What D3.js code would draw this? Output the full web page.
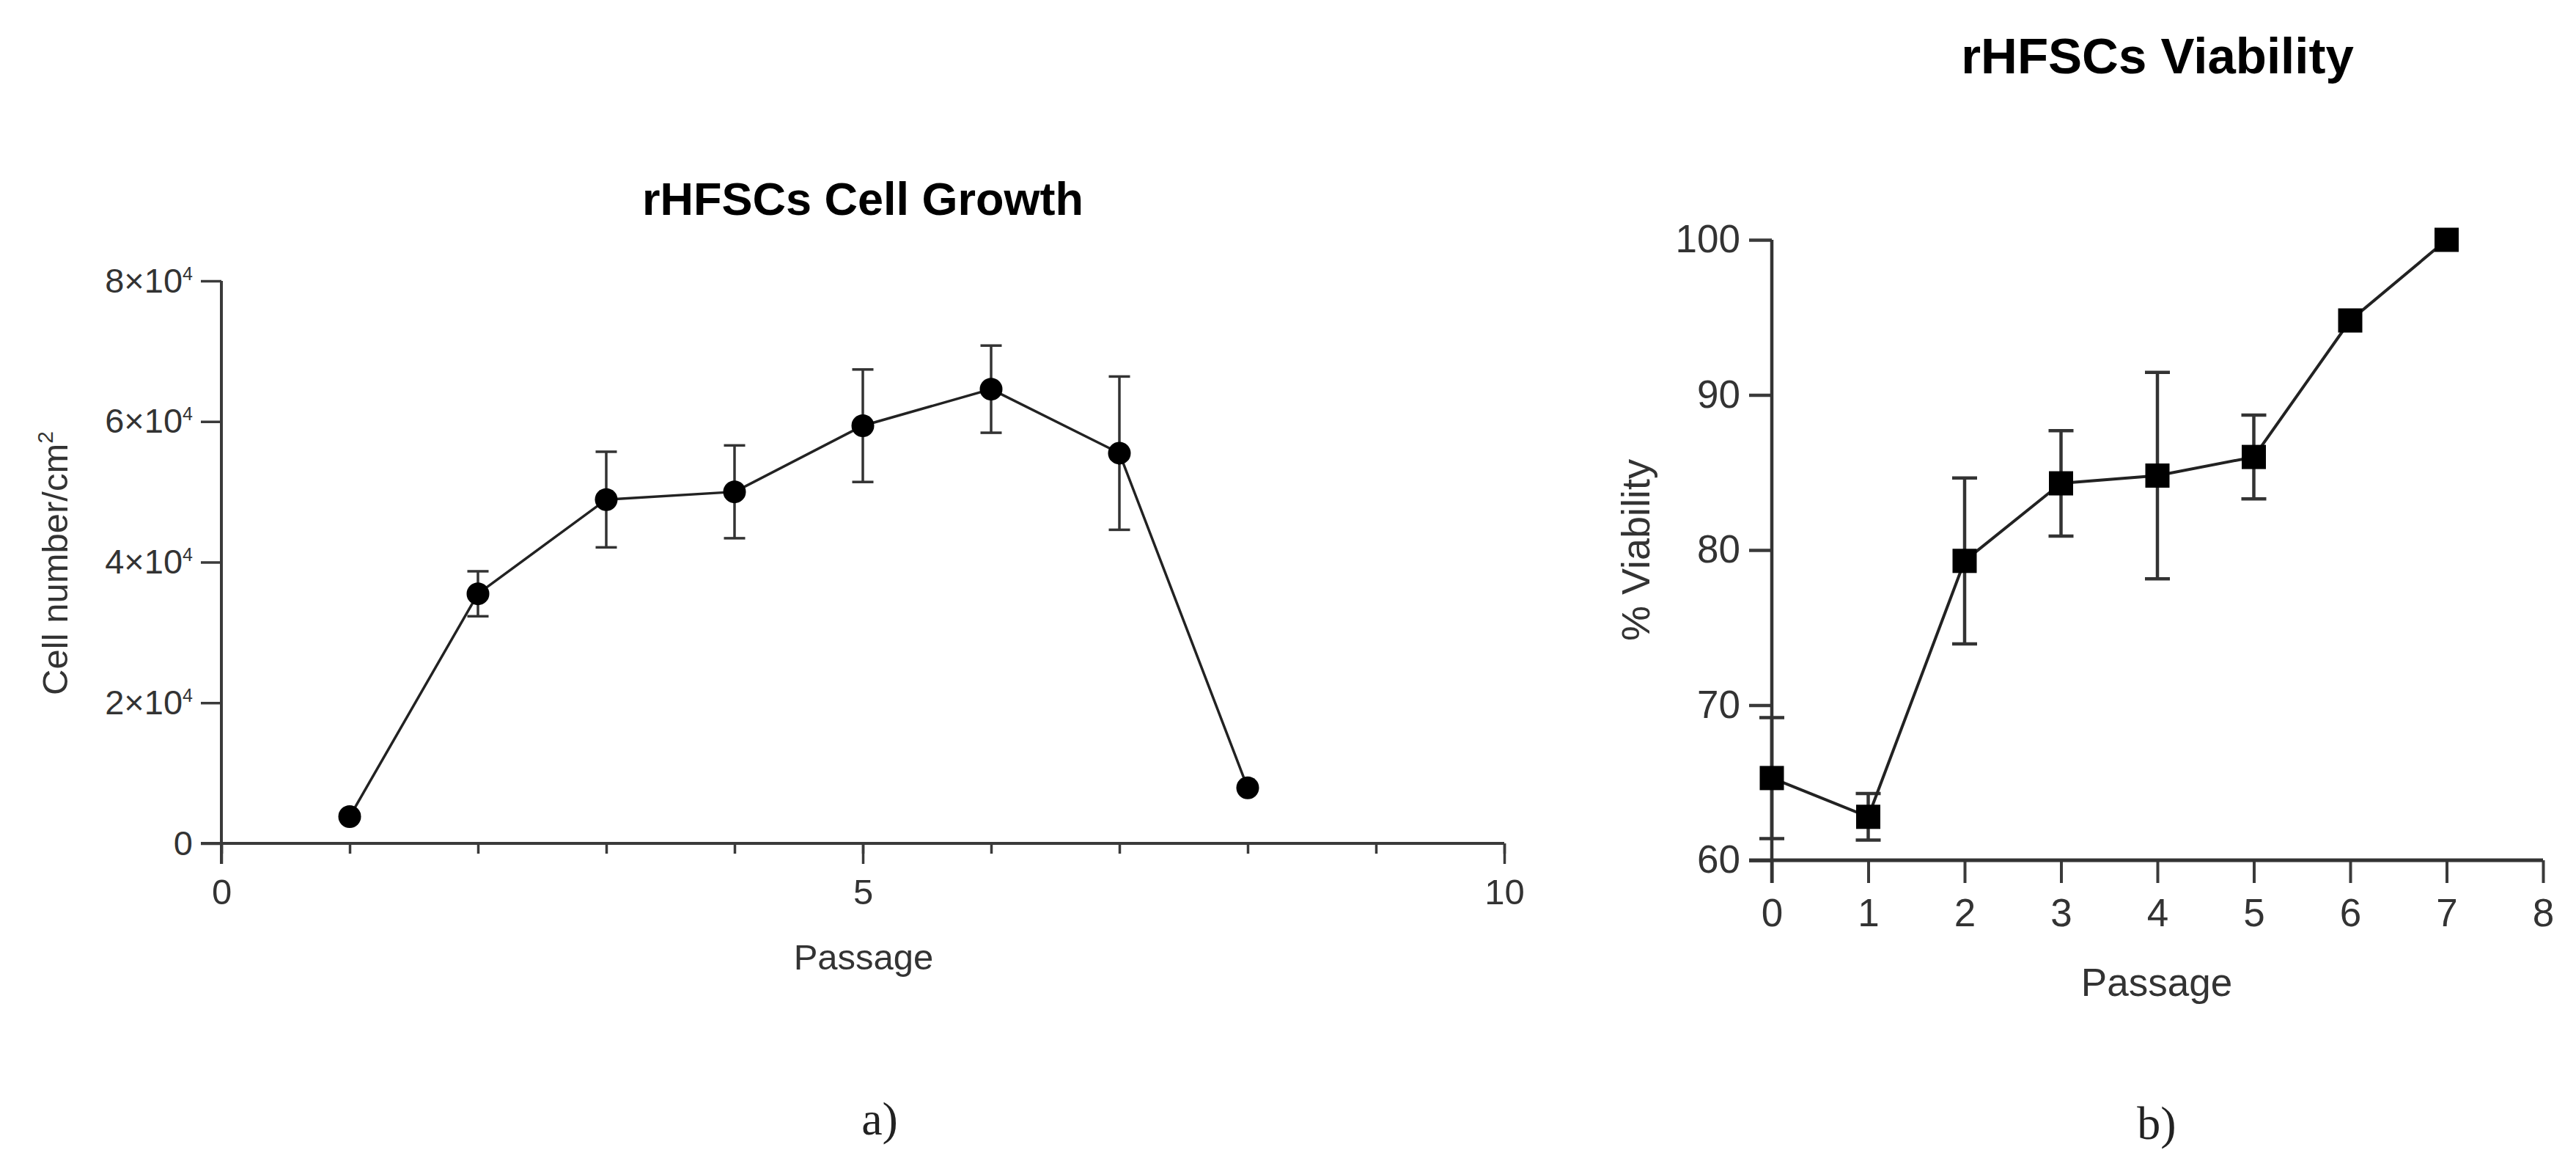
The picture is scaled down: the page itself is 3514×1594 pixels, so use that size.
<!DOCTYPE html>
<html lang="en">
<head>
<meta charset="UTF-8">
<title>rHFSCs growth and viability</title>
<script src="https://d3js.org/d3.v7.min.js"></script>
<style>
  body { margin: 0; background: #fff; }
  svg { display: block; font-family: "Liberation Sans", Arial, sans-serif; }
  .axis text { fill: #333; }
  .axis line, .axis path { stroke: #3a3a3a; }
</style>
</head>
<body>
<svg id="fig" width="3514" height="1594"></svg>
<script>
// panel a) cell growth
const growthPassage = [1, 2, 3, 4, 5, 6, 7, 8];
const growthMean = [3800, 35500, 48900, 50000, 59400, 64600, 55500, 7900];
const growthSD = [0, 3200, 6800, 6600, 8000, 6200, 10900, 0];
const growthYTicks = [0, 20000, 40000, 60000, 80000];
const growthXMajor = [0, 5, 10];
const growthXMinor = [0, 1, 2, 3, 4, 5, 6, 7, 8, 9, 10];

// panel b) viability
const viabPassage = [0, 1, 2, 3, 4, 5, 6, 7];
const viabMean = [65.3, 62.8, 79.3, 84.3, 84.8, 86.0, 94.8, 100];
const viabSD = [3.9, 1.5, 5.35, 3.4, 6.65, 2.7, 0, 0];
const viabYTicks = [60, 70, 80, 90, 100];
const viabXTicks = [0, 1, 2, 3, 4, 5, 6, 7, 8];

const svg = d3.select("#fig");

// ---------- panel a ----------
const xa = d3.scaleLinear().domain([0, 10]).range([302, 2052]);
const ya = d3.scaleLinear().domain([0, 80000]).range([1150, 383]);

const ga = svg.append("g");

// x axis: minor then major ticks
ga.append("g").attr("class", "axis")
    .attr("transform", `translate(0,${ya(0)})`)
    .call(d3.axisBottom(xa).tickValues(growthXMinor).tickSize(14).tickSizeOuter(0).tickFormat(""))
    .call(g => g.select(".domain").remove())
    .call(g => g.selectAll("line").attr("stroke-width", 3.5));
ga.append("g").attr("class", "axis")
    .attr("transform", `translate(0,${ya(0)})`)
    .call(d3.axisBottom(xa).tickValues(growthXMajor).tickSize(28).tickPadding(20).tickSizeOuter(0).tickFormat(d3.format("d")))
    .call(g => g.select(".domain").remove())
    .call(g => g.selectAll("line").attr("stroke-width", 3.5))
    .call(g => g.selectAll("text").attr("font-size", 49).attr("font-family", null));

// y axis with ×10⁴ labels
ga.append("g").attr("class", "axis")
    .attr("transform", `translate(${xa(0)},0)`)
    .call(d3.axisLeft(ya).tickValues(growthYTicks).tickSize(28).tickPadding(11).tickSizeOuter(0))
    .call(g => g.select(".domain").remove())
    .call(g => g.selectAll("line").attr("stroke-width", 3.5))
    .call(g => g.selectAll("text")
        .attr("font-size", 47).attr("font-family", null)
        .each(function(d) {
            const t = d3.select(this).text(null);
            if (d === 0) { t.text("0"); return; }
            t.append("tspan").text(`${d / 10000}×10`);
            t.append("tspan").attr("font-size", 25).attr("dy", -17).text("4");
        }));

// axis lines
ga.append("line")
    .attr("x1", xa(0) - 28).attr("x2", xa(10))
    .attr("y1", ya(0)).attr("y2", ya(0))
    .attr("stroke", "#3a3a3a").attr("stroke-width", 4);
ga.append("line")
    .attr("x1", xa(0)).attr("x2", xa(0))
    .attr("y1", ya(80000)).attr("y2", ya(0) + 28)
    .attr("stroke", "#3a3a3a").attr("stroke-width", 4);

const growth = growthPassage.map((p, i) => ({ p, m: growthMean[i], sd: growthSD[i] }));

// error bars
const eba = ga.append("g").attr("stroke", "#333").attr("stroke-width", 3.5);
growth.filter(d => d.sd > 0).forEach(d => {
    eba.append("line").attr("x1", xa(d.p)).attr("x2", xa(d.p))
        .attr("y1", ya(d.m - d.sd)).attr("y2", ya(d.m + d.sd));
    [d.m - d.sd, d.m + d.sd].forEach(v => {
        eba.append("line").attr("x1", xa(d.p) - 14.5).attr("x2", xa(d.p) + 14.5)
            .attr("y1", ya(v)).attr("y2", ya(v));
    });
});

ga.append("path").datum(growth)
    .attr("fill", "none").attr("stroke", "#222").attr("stroke-width", 3.5)
    .attr("d", d3.line().x(d => xa(d.p)).y(d => ya(d.m)));

ga.selectAll("circle").data(growth).join("circle")
    .attr("cx", d => xa(d.p)).attr("cy", d => ya(d.m))
    .attr("r", 15.5).attr("fill", "#000");

ga.append("text").attr("x", 1177).attr("y", 293)
    .attr("text-anchor", "middle").attr("font-size", 63).attr("font-weight", "bold")
    .text("rHFSCs Cell Growth");
ga.append("text").attr("x", 1178).attr("y", 1322)
    .attr("text-anchor", "middle").attr("font-size", 49).attr("fill", "#333")
    .text("Passage");
const yla = ga.append("text")
    .attr("transform", "translate(92,768) rotate(-90)")
    .attr("text-anchor", "middle").attr("font-size", 49).attr("fill", "#333");
yla.append("tspan").text("Cell number/cm");
yla.append("tspan").attr("font-size", 30).attr("dy", -20).text("2");

// ---------- panel b ----------
const xb = d3.scaleLinear().domain([0, 8]).range([2417, 3469]);
const yb = d3.scaleLinear().domain([60, 100]).range([1173, 327]);

const gb = svg.append("g");

gb.append("g").attr("class", "axis")
    .attr("transform", `translate(0,${yb(60)})`)
    .call(d3.axisBottom(xb).tickValues(viabXTicks).tickSize(31).tickPadding(21).tickSizeOuter(0).tickFormat(d3.format("d")))
    .call(g => g.select(".domain").remove())
    .call(g => g.selectAll("line").attr("stroke-width", 4))
    .call(g => g.selectAll("text").attr("font-size", 53).attr("font-family", null));

gb.append("g").attr("class", "axis")
    .attr("transform", `translate(${xb(0)},0)`)
    .call(d3.axisLeft(yb).tickValues(viabYTicks).tickSize(31).tickPadding(12).tickSizeOuter(0).tickFormat(d3.format("d")))
    .call(g => g.select(".domain").remove())
    .call(g => g.selectAll("line").attr("stroke-width", 4.5))
    .call(g => g.selectAll("text").attr("font-size", 53).attr("font-family", null));

gb.append("line")
    .attr("x1", xb(0) - 31).attr("x2", xb(8))
    .attr("y1", yb(60)).attr("y2", yb(60))
    .attr("stroke", "#333").attr("stroke-width", 5);
gb.append("line")
    .attr("x1", xb(0)).attr("x2", xb(0))
    .attr("y1", yb(100)).attr("y2", yb(60) + 31)
    .attr("stroke", "#333").attr("stroke-width", 4.5);

const viab = viabPassage.map((p, i) => ({ p, m: viabMean[i], sd: viabSD[i] }));

const ebb = gb.append("g").attr("stroke", "#333").attr("stroke-width", 4.5);
viab.filter(d => d.sd > 0).forEach(d => {
    ebb.append("line").attr("x1", xb(d.p)).attr("x2", xb(d.p))
        .attr("y1", yb(d.m - d.sd)).attr("y2", yb(d.m + d.sd));
    [d.m - d.sd, d.m + d.sd].forEach(v => {
        ebb.append("line").attr("x1", xb(d.p) - 17).attr("x2", xb(d.p) + 17)
            .attr("y1", yb(v)).attr("y2", yb(v));
    });
});

gb.append("path").datum(viab)
    .attr("fill", "none").attr("stroke", "#222").attr("stroke-width", 4)
    .attr("d", d3.line().x(d => xb(d.p)).y(d => yb(d.m)));

const sq = 33;
gb.selectAll("rect").data(viab).join("rect")
    .attr("x", d => xb(d.p) - sq / 2).attr("y", d => yb(d.m) - sq / 2)
    .attr("width", sq).attr("height", sq).attr("fill", "#000");

gb.append("text").attr("x", 2943).attr("y", 100)
    .attr("text-anchor", "middle").attr("font-size", 69).attr("font-weight", "bold")
    .text("rHFSCs Viability");
gb.append("text").attr("x", 2942).attr("y", 1358)
    .attr("text-anchor", "middle").attr("font-size", 53).attr("fill", "#333")
    .text("Passage");
gb.append("text")
    .attr("transform", "translate(2250,750) rotate(-90)")
    .attr("text-anchor", "middle").attr("font-size", 54).attr("fill", "#333")
    .text("% Viability");

// panel letters
svg.append("text").attr("x", 1200).attr("y", 1547)
    .attr("text-anchor", "middle").attr("font-size", 64)
    .attr("font-family", "'Liberation Serif', 'DejaVu Serif', serif").attr("fill", "#222")
    .text("a)");
svg.append("text").attr("x", 2942).attr("y", 1553)
    .attr("text-anchor", "middle").attr("font-size", 64)
    .attr("font-family", "'Liberation Serif', 'DejaVu Serif', serif").attr("fill", "#222")
    .text("b)");
</script>
</body>
</html>
